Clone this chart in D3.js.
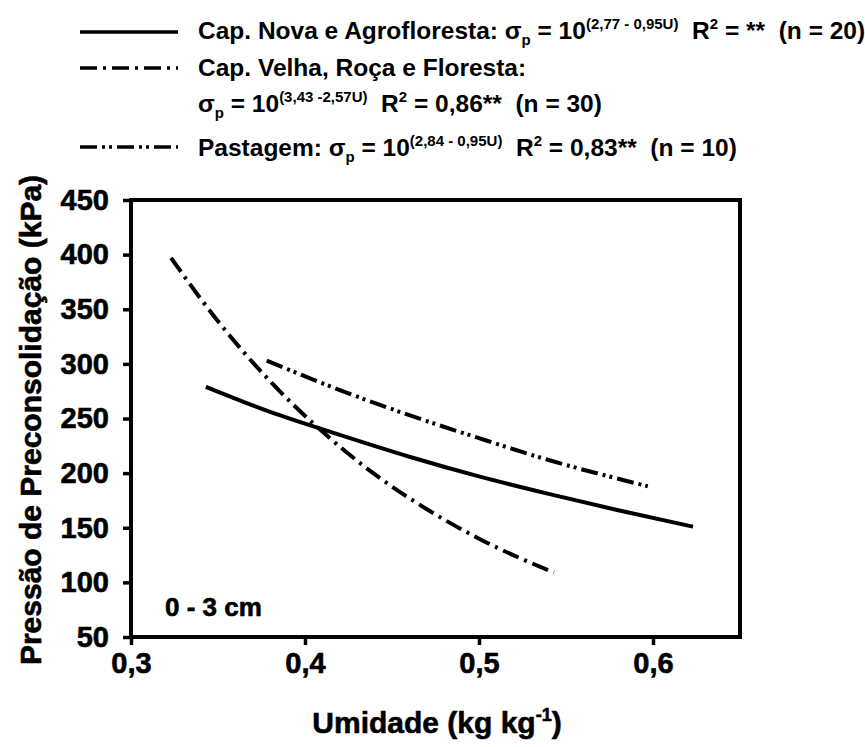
<!DOCTYPE html>
<html>
<head>
<meta charset="utf-8">
<script src="https://cdn.jsdelivr.net/npm/d3@7/dist/d3.min.js"></script>
<style>
  html, body { margin: 0; padding: 0; background: #fff; }
  svg { display: block; font-family: "Liberation Sans", Arial, sans-serif; font-weight: bold; }
  text { white-space: pre; }
  .heavy { stroke: #000; stroke-width: 0.6px; }
</style>
</head>
<body>
<svg id="chart" width="865" height="747"></svg>
<script>
// ---- data ----
const capNovaU      = [0.343, 0.38, 0.42, 0.46, 0.50, 0.54, 0.58, 0.623];
const capNovaSigma  = [279, 256, 235, 215, 197, 181, 166, 151];
const capVelhaU     = [0.323, 0.35, 0.38, 0.41, 0.44, 0.47, 0.50, 0.543];
const capVelhaSigma = [397, 339, 284, 238, 199, 167, 140, 109];
const pastagemU     = [0.378, 0.42, 0.46, 0.50, 0.54, 0.597];
const pastagemSigma = [303, 276, 253, 232, 212, 188];

const xTickValues = [0.3, 0.4, 0.5, 0.6];
const xTickLabels = ["0,3", "0,4", "0,5", "0,6"];
const yTickValues = [50, 100, 150, 200, 250, 300, 350, 400, 450];
const yTickLabels = ["50", "100", "150", "200", "250", "300", "350", "400", "450"];

const xDomain = [0.3, 0.65];
const yDomain = [50, 450];

const yTitle = "Pressão de Preconsolidação (kPa)";
const depthLabel = "0 - 3 cm";

// ---- layout ----
const svg = d3.select("#chart");
const L = 131, R = 740, T = 200, B = 637;
const x = d3.scaleLinear().domain(xDomain).range([L, R]);
const y = d3.scaleLinear().domain(yDomain).range([B, T]);

// axes
const xAxis = d3.axisBottom(x).tickValues(xTickValues)
  .tickFormat((d, i) => xTickLabels[i]).tickSize(8).tickPadding(7);
const yAxis = d3.axisLeft(y).tickValues(yTickValues)
  .tickFormat((d, i) => yTickLabels[i]).tickSize(8).tickPadding(14);

const gx = svg.append("g").attr("transform", `translate(0,${B})`).call(xAxis);
const gy = svg.append("g").attr("transform", `translate(${L},0)`).call(yAxis);
[gx, gy].forEach(g => {
  g.select(".domain").remove();
  g.selectAll(".tick line").attr("stroke", "#000").attr("stroke-width", 3.5);
  g.selectAll(".tick text").attr("fill", "#000").attr("class", "heavy")
    .style("font-size", "29px").style("font-weight", "bold")
    .style("font-family", '"Liberation Sans", Arial, sans-serif');
});

// plot frame
svg.append("rect").attr("x", L).attr("y", T).attr("width", R - L).attr("height", B - T)
  .attr("fill", "none").attr("stroke", "#000").attr("stroke-width", 4);

// curves
const line = d3.line().x(d => x(d[0])).y(d => y(d[1])).curve(d3.curveMonotoneX);
const series = [
  { u: capNovaU, s: capNovaSigma, dash: null },
  { u: capVelhaU, s: capVelhaSigma, dash: "17,6,3,6" },
  { u: pastagemU, s: pastagemSigma, dash: "17,5,3,4,3,5" }
];
series.forEach(sr => {
  const pts = sr.u.map((u, i) => [u, sr.s[i]]);
  const p = svg.append("path").datum(pts).attr("d", line)
    .attr("fill", "none").attr("stroke", "#000").attr("stroke-width", 4);
  if (sr.dash) p.attr("stroke-dasharray", sr.dash);
});

// depth label
svg.append("text").attr("x", 165).attr("y", 616).attr("class", "heavy")
  .style("font-size", "26px").text(depthLabel);

// axis titles
svg.append("text").attr("transform", "translate(41,420) rotate(-90)").attr("class", "heavy")
  .attr("text-anchor", "middle").style("font-size", "30px").text(yTitle);

const xt = svg.append("text").attr("x", 437).attr("y", 733).attr("text-anchor", "middle")
  .attr("class", "heavy").style("font-size", "30px");
xt.append("tspan").text("Umidade (kg kg");
xt.append("tspan").attr("dy", -12).style("font-size", "18px").text("-1");
xt.append("tspan").attr("dy", 12).text(")");

// legend
const legendLines = [
  { y: 32, dash: null },
  { y: 68, dash: "17,6,3,6" },
  { y: 147, dash: "17,5,3,4,3,5" }
];
legendLines.forEach(d => {
  const l = svg.append("line").attr("x1", 80).attr("x2", 178).attr("y1", d.y).attr("y2", d.y)
    .attr("stroke", "#000").attr("stroke-width", 3.5);
  if (d.dash) l.attr("stroke-dasharray", d.dash);
});

const FS = 24.5, SFS = 15;
function eqText(g, parts) {
  let shift = 0;
  parts.forEach(([t, k]) => {
    const target = k === "sup" ? -10 : k === "sub" ? 6 : 0;
    g.append("tspan").attr("dy", target - shift).text(t)
      .style("font-size", (k === "n" ? FS : SFS) + "px");
    shift = target;
  });
}
const row1 = svg.append("text").attr("x", 198).attr("y", 39).style("font-size", FS + "px");
eqText(row1, [["Cap. Nova e Agrofloresta: σ", "n"], ["p", "sub"], [" = 10", "n"],
  ["(2,77 - 0,95U)", "sup"], ["  R", "n"], ["2", "sup"], [" = **  (n = 20)", "n"]]);

svg.append("text").attr("x", 198).attr("y", 76).style("font-size", FS + "px")
  .text("Cap. Velha, Roça e Floresta:");

const row3 = svg.append("text").attr("x", 198).attr("y", 112).style("font-size", FS + "px");
eqText(row3, [["σ", "n"], ["p", "sub"], [" = 10", "n"],
  ["(3,43 -2,57U)", "sup"], ["  R", "n"], ["2", "sup"], [" = 0,86**  (n = 30)", "n"]]);

const row4 = svg.append("text").attr("x", 198).attr("y", 156).style("font-size", FS + "px");
eqText(row4, [["Pastagem: σ", "n"], ["p", "sub"], [" = 10", "n"],
  ["(2,84 - 0,95U)", "sup"], ["  R", "n"], ["2", "sup"], [" = 0,83**  (n = 10)", "n"]]);
</script>
</body>
</html>
